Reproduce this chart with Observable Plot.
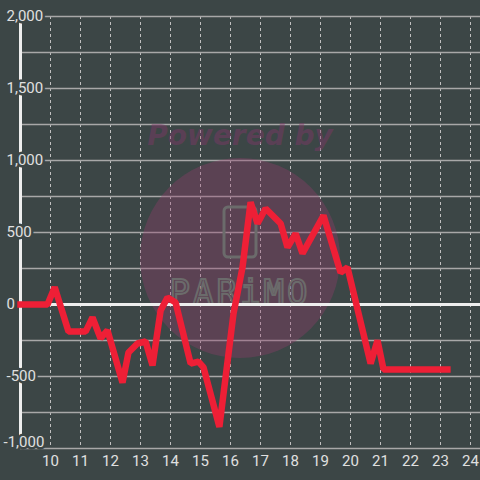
<!DOCTYPE html>
<html>
<head>
<meta charset="utf-8">
<script src="https://cdn.jsdelivr.net/npm/d3@7"></script>
<script src="https://cdn.jsdelivr.net/npm/@observablehq/plot@0.6"></script>
<style>
  html, body { margin: 0; padding: 0; background: #3c4646; }
</style>
</head>
<body>
<div id="chart"></div>
<script>
// Data
const times  = [9, 9.9, 10.14, 10.6, 11.17, 11.4, 11.67, 11.9, 12.4, 12.6, 12.9, 13.17, 13.4, 13.67, 13.9, 14.17, 14.67, 14.93, 15.1, 15.63, 16.1, 16.4, 16.67, 16.9, 17.17, 17.67, 17.9, 18.17, 18.4, 19.1, 19.67, 19.9, 20.67, 20.9, 21.1, 23.23];
const values = [0, 0, 120, -188, -188, -90, -236, -180, -542, -333, -271, -257, -423, -42, 49, 14, -410, -396, -437, -850, -63, 257, 710, 563, 667, 563, 396, 493, 354, 618, 222, 257, -410, -250, -451, -451];
const xTicks = [10, 11, 12, 13, 14, 15, 16, 17, 18, 19, 20, 21, 22, 23, 24];
const yTicks = [2000, 1500, 1000, 500, 0, -500, -1000];
const yGrid  = [2000, 1750, 1500, 1250, 1000, 750, 500, 250, 0, -250, -500, -750, -1000];

const data = times.map((t, i) => ({t, v: values[i]}));
const bg = "#3c4646";
const font = "Roboto, 'Liberation Sans', sans-serif";

function watermark(index, scales, vals, dims) {
  const g = d3.create("svg:g");
  const cx = dims.width / 2;
  g.append("text")
    .attr("x", cx).attr("y", 145)
    .attr("text-anchor", "middle")
    .attr("font-family", "'DejaVu Sans', sans-serif")
    .attr("font-weight", "bold").attr("font-style", "italic")
    .attr("font-size", 28)
    .attr("fill", "rgb(130,55,105)").attr("fill-opacity", 0.45)
    .text("Powered by");
  g.append("circle")
    .attr("cx", cx).attr("cy", 258).attr("r", 100)
    .attr("fill", "rgb(149,59,110)").attr("fill-opacity", 0.35);
  g.append("rect")
    .attr("x", cx - 16).attr("y", 207).attr("width", 32).attr("height", 50).attr("rx", 4)
    .attr("fill", "none").attr("stroke", "#6b6b6b").attr("stroke-width", 3);
  g.append("text")
    .attr("x", cx).attr("y", 304)
    .attr("text-anchor", "middle")
    .attr("font-family", "'DejaVu Sans Mono', monospace")
    .attr("font-size", 34).attr("letter-spacing", 3)
    .attr("fill", "none").attr("stroke", "#6b6b6b").attr("stroke-width", 2)
    .text("PARiMO");
  return g.node();
}

const chart = Plot.plot({
  width: 480,
  height: 480,
  marginLeft: 20,
  marginRight: 0,
  marginTop: 16,
  marginBottom: 32,
  style: { background: bg, fontFamily: font },
  x: { domain: [9, 24 + 1/3], axis: null },
  y: { domain: [-1000, 2000], axis: null },
  marks: [
    Plot.ruleX(xTicks, { stroke: "#c0c0c0", strokeWidth: 1, strokeDasharray: "3,3" }),
    Plot.ruleY(yGrid, { stroke: "#a8a8a8", strokeWidth: 1.5 }),
    watermark,
    Plot.ruleX([9], { stroke: "#eeeeee", strokeWidth: 3 }),
    Plot.ruleY([0], { stroke: "#eeeeee", strokeWidth: 3 }),
    Plot.line(data, { x: "t", y: "v", stroke: "#ee1f36", strokeWidth: 6.5, strokeLinejoin: "miter", strokeLinecap: "square" }),
    Plot.text(yTicks.filter(d => d > -1000), { x: 9, y: d => d, text: d => d.toLocaleString("en-US"), textAnchor: "start", dx: -14,
      fill: "#e0e0e0", stroke: bg, strokeWidth: 5, fontSize: 15 }),
    Plot.text(yTicks.filter(d => d === -1000), { x: 9, y: d => d, text: d => d.toLocaleString("en-US"), textAnchor: "start", dx: -17, dy: -6,
      fill: "#e0e0e0", stroke: bg, strokeWidth: 5, fontSize: 15 }),
    Plot.text(xTicks, { x: d => d, y: -1000, dy: 13, text: d => String(d), fill: "#e0e0e0", fontSize: 15 })
  ]
});
document.getElementById("chart").appendChild(chart);
</script>
</body>
</html>
